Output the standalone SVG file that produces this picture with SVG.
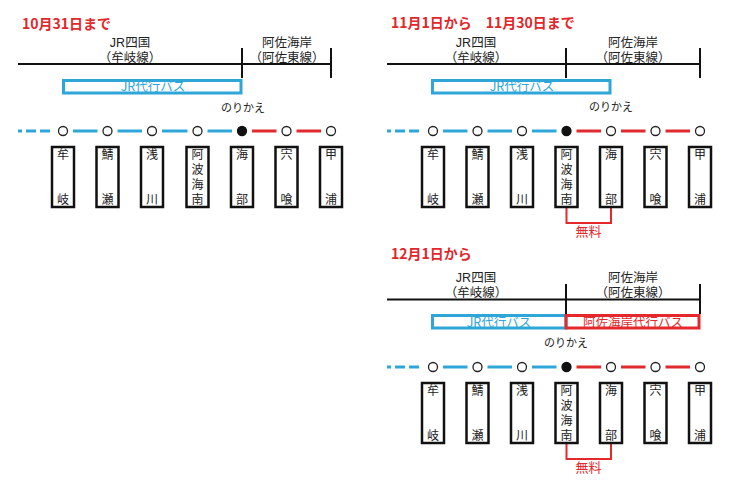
<svg xmlns="http://www.w3.org/2000/svg" width="743" height="483" viewBox="0 0 743 483">
<style>
text{font-family:"Noto Sans CJK JP","Noto Sans",sans-serif;text-anchor:middle;}
.title{font-size:14px;font-weight:bold;fill:#e3262a;text-anchor:start;}
.hdr{font-family:"Liberation Sans","Noto Sans CJK JP",sans-serif;font-size:12.5px;fill:#222;}
.nori{font-size:11px;fill:#222;}
.stn{font-size:12px;fill:#222;}
.vt{font-size:12px;fill:#222;writing-mode:vertical-rl;text-anchor:start;letter-spacing:3px;}
.bus-b{fill:none;stroke:#2fa6d8;stroke-width:3;}
.bus-r{fill:none;stroke:#e4282b;stroke-width:3;}
.bt{font-size:12.5px;fill:#2fa6d8;}
.rt{font-size:12.5px;fill:#e4282b;}
.axis{stroke:#111;stroke-width:2;fill:none;}
.lb{stroke:#2fa6d8;stroke-width:3;}
.lr{stroke:#e02a2e;stroke-width:3;}
.dash{stroke:#2fa6d8;stroke-width:3;stroke-dasharray:4 4 10 4 10;}
.box{fill:#fff;stroke:#111;stroke-width:2.5;}
.st{fill:#fff;stroke:#222;stroke-width:1.3;}
.tr{fill:#111;stroke:#111;stroke-width:1.3;}
.free{fill:none;stroke:#e4282b;stroke-width:2;}
.ft{font-size:13px;fill:#e4282b;}
</style>

<!-- ===== Panel 1 ===== -->
<g id="panel1-header">
<text class="title" x="22" y="28.5">10月31日まで</text>
<text class="hdr" x="130" y="46.5">JR四国</text>
<text class="hdr" x="130" y="61.5">（牟岐線）</text>
<text class="hdr" x="287" y="46.5">阿佐海岸</text>
<text class="hdr" x="287" y="61.5">（阿佐東線）</text>
<path class="axis" d="M18,64 H332 M242,48 V78 M331,48 V78"/>
<rect class="bus-b" x="63.5" y="80.5" width="177.5" height="12.5"/>
<text class="bt" x="153" y="91">JR代行バス</text>
<text class="nori" x="243" y="112">のりかえ</text>
</g>
<g id="panel1-connectors">
<line class="dash" x1="18" y1="131" x2="50" y2="131"/>
<line class="lb" x1="73" y1="131" x2="97.5" y2="131"/>
<line class="lb" x1="117.5" y1="131" x2="142" y2="131"/>
<line class="lb" x1="162" y1="131" x2="187.5" y2="131"/>
<line class="lb" x1="207.5" y1="131" x2="232" y2="131"/>
<line class="lr" x1="252" y1="131" x2="276.5" y2="131"/>
<line class="lr" x1="296.5" y1="131" x2="321" y2="131"/>
</g>
<g id="p1-mugi" transform="translate(63,146)"><circle class="st" cx="0" cy="-15" r="4.5"/><rect class="box" x="-11" y="1" width="22" height="60"/><text class="stn"><tspan x="0" y="13">牟</tspan><tspan x="0" y="58">岐</tspan></text></g>
<g id="p1-sabase" transform="translate(107.5,146)"><circle class="st" cx="0" cy="-15" r="4.5"/><rect class="box" x="-11" y="1" width="22" height="60"/><text class="stn"><tspan x="0" y="13">鯖</tspan><tspan x="0" y="58">瀬</tspan></text></g>
<g id="p1-asakawa" transform="translate(152,146)"><circle class="st" cx="0" cy="-15" r="4.5"/><rect class="box" x="-11" y="1" width="22" height="60"/><text class="stn"><tspan x="0" y="13">浅</tspan><tspan x="0" y="58">川</tspan></text></g>
<g id="p1-awakainan" transform="translate(197.5,146)"><circle class="st" cx="0" cy="-15" r="4.5"/><rect class="box" x="-11" y="1" width="22" height="60"/><text class="vt" x="0" y="2.5">阿波海南</text></g>
<g id="p1-kaifu" transform="translate(242,146)"><circle class="tr" cx="0" cy="-15" r="4.5"/><rect class="box" x="-11" y="1" width="22" height="60"/><text class="stn"><tspan x="0" y="13">海</tspan><tspan x="0" y="58">部</tspan></text></g>
<g id="p1-shishikui" transform="translate(286.5,146)"><circle class="st" cx="0" cy="-15" r="4.5"/><rect class="box" x="-11" y="1" width="22" height="60"/><text class="stn"><tspan x="0" y="13">宍</tspan><tspan x="0" y="58">喰</tspan></text></g>
<g id="p1-kannoura" transform="translate(331,146)"><circle class="st" cx="0" cy="-15" r="4.5"/><rect class="box" x="-11" y="1" width="22" height="60"/><text class="stn"><tspan x="0" y="13">甲</tspan><tspan x="0" y="58">浦</tspan></text></g>

<!-- ===== Panel 2 ===== -->
<g id="panel2-header">
<text class="title" x="391" y="28">11月1日から　11月30日まで</text>
<text class="hdr" x="476" y="46.5">JR四国</text>
<text class="hdr" x="476" y="61.5">（牟岐線）</text>
<text class="hdr" x="633" y="46.5">阿佐海岸</text>
<text class="hdr" x="633" y="61.5">（阿佐東線）</text>
<path class="axis" d="M387,64 H701 M566,48 V78 M700,48 V78"/>
<rect class="bus-b" x="432.5" y="80.5" width="177.5" height="12.5"/>
<text class="bt" x="522" y="91">JR代行バス</text>
<text class="nori" x="611" y="111">のりかえ</text>
</g>
<g id="panel2-connectors">
<line class="dash" x1="387" y1="131" x2="419" y2="131"/>
<line class="lb" x1="443" y1="131" x2="467.5" y2="131"/>
<line class="lb" x1="487.5" y1="131" x2="512" y2="131"/>
<line class="lb" x1="532" y1="131" x2="556.5" y2="131"/>
<line class="lr" x1="576.5" y1="131" x2="601" y2="131"/>
<line class="lr" x1="621" y1="131" x2="645.5" y2="131"/>
<line class="lr" x1="665.5" y1="131" x2="690" y2="131"/>
<path class="free" d="M566.5,208 V223 H611 V208"/>
<text class="ft" x="588.5" y="236">無料</text>
</g>
<g id="p2-mugi" transform="translate(433,146)"><circle class="st" cx="0" cy="-15" r="4.5"/><rect class="box" x="-11" y="1" width="22" height="60"/><text class="stn"><tspan x="0" y="13">牟</tspan><tspan x="0" y="58">岐</tspan></text></g>
<g id="p2-sabase" transform="translate(477.5,146)"><circle class="st" cx="0" cy="-15" r="4.5"/><rect class="box" x="-11" y="1" width="22" height="60"/><text class="stn"><tspan x="0" y="13">鯖</tspan><tspan x="0" y="58">瀬</tspan></text></g>
<g id="p2-asakawa" transform="translate(522,146)"><circle class="st" cx="0" cy="-15" r="4.5"/><rect class="box" x="-11" y="1" width="22" height="60"/><text class="stn"><tspan x="0" y="13">浅</tspan><tspan x="0" y="58">川</tspan></text></g>
<g id="p2-awakainan" transform="translate(566.5,146)"><circle class="tr" cx="0" cy="-15" r="4.5"/><rect class="box" x="-11" y="1" width="22" height="60"/><text class="vt" x="0" y="2.5">阿波海南</text></g>
<g id="p2-kaifu" transform="translate(611,146)"><circle class="st" cx="0" cy="-15" r="4.5"/><rect class="box" x="-11" y="1" width="22" height="60"/><text class="stn"><tspan x="0" y="13">海</tspan><tspan x="0" y="58">部</tspan></text></g>
<g id="p2-shishikui" transform="translate(655.5,146)"><circle class="st" cx="0" cy="-15" r="4.5"/><rect class="box" x="-11" y="1" width="22" height="60"/><text class="stn"><tspan x="0" y="13">宍</tspan><tspan x="0" y="58">喰</tspan></text></g>
<g id="p2-kannoura" transform="translate(700,146)"><circle class="st" cx="0" cy="-15" r="4.5"/><rect class="box" x="-11" y="1" width="22" height="60"/><text class="stn"><tspan x="0" y="13">甲</tspan><tspan x="0" y="58">浦</tspan></text></g>

<!-- ===== Panel 3 ===== -->
<g id="panel3-header">
<text class="title" x="391" y="259">12月1日から</text>
<text class="hdr" x="476" y="282">JR四国</text>
<text class="hdr" x="476" y="297">（牟岐線）</text>
<text class="hdr" x="633" y="282">阿佐海岸</text>
<text class="hdr" x="633" y="297">（阿佐東線）</text>
<path class="axis" d="M387,299.5 H701 M566,284 V314 M700,284 V314"/>
<rect class="bus-b" x="432.5" y="315.5" width="133.5" height="12.5"/>
<rect class="bus-r" x="566" y="315.5" width="133" height="12.5"/>
<text class="bt" x="499" y="326.5">JR代行バス</text>
<text class="rt" x="633" y="326.5">阿佐海岸代行バス</text>
<text class="nori" x="566" y="347">のりかえ</text>
</g>
<g id="panel3-connectors">
<line class="dash" x1="387" y1="367" x2="419" y2="367"/>
<line class="lb" x1="443" y1="367" x2="467.5" y2="367"/>
<line class="lb" x1="487.5" y1="367" x2="512" y2="367"/>
<line class="lb" x1="532" y1="367" x2="556.5" y2="367"/>
<line class="lr" x1="576.5" y1="367" x2="601" y2="367"/>
<line class="lr" x1="621" y1="367" x2="645.5" y2="367"/>
<line class="lr" x1="665.5" y1="367" x2="690" y2="367"/>
<path class="free" d="M566.5,444 V459 H611 V444"/>
<text class="ft" x="588.5" y="472">無料</text>
</g>
<g id="p3-mugi" transform="translate(433,382)"><circle class="st" cx="0" cy="-15" r="4.5"/><rect class="box" x="-11" y="1" width="22" height="60"/><text class="stn"><tspan x="0" y="13">牟</tspan><tspan x="0" y="58">岐</tspan></text></g>
<g id="p3-sabase" transform="translate(477.5,382)"><circle class="st" cx="0" cy="-15" r="4.5"/><rect class="box" x="-11" y="1" width="22" height="60"/><text class="stn"><tspan x="0" y="13">鯖</tspan><tspan x="0" y="58">瀬</tspan></text></g>
<g id="p3-asakawa" transform="translate(522,382)"><circle class="st" cx="0" cy="-15" r="4.5"/><rect class="box" x="-11" y="1" width="22" height="60"/><text class="stn"><tspan x="0" y="13">浅</tspan><tspan x="0" y="58">川</tspan></text></g>
<g id="p3-awakainan" transform="translate(566.5,382)"><circle class="tr" cx="0" cy="-15" r="4.5"/><rect class="box" x="-11" y="1" width="22" height="60"/><text class="vt" x="0" y="2.5">阿波海南</text></g>
<g id="p3-kaifu" transform="translate(611,382)"><circle class="st" cx="0" cy="-15" r="4.5"/><rect class="box" x="-11" y="1" width="22" height="60"/><text class="stn"><tspan x="0" y="13">海</tspan><tspan x="0" y="58">部</tspan></text></g>
<g id="p3-shishikui" transform="translate(655.5,382)"><circle class="st" cx="0" cy="-15" r="4.5"/><rect class="box" x="-11" y="1" width="22" height="60"/><text class="stn"><tspan x="0" y="13">宍</tspan><tspan x="0" y="58">喰</tspan></text></g>
<g id="p3-kannoura" transform="translate(700,382)"><circle class="st" cx="0" cy="-15" r="4.5"/><rect class="box" x="-11" y="1" width="22" height="60"/><text class="stn"><tspan x="0" y="13">甲</tspan><tspan x="0" y="58">浦</tspan></text></g>
</svg>
